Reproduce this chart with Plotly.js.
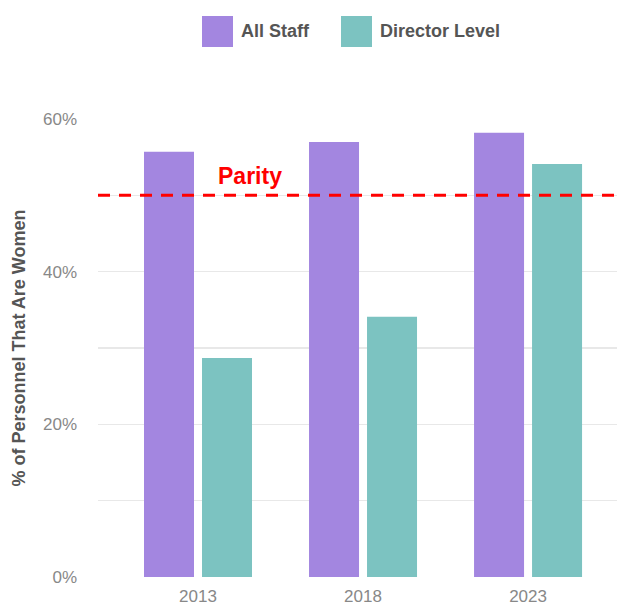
<!DOCTYPE html>
<html>
<head>
<meta charset="utf-8">
<script src="https://cdn.plot.ly/plotly-3.0.1.min.js"></script>
<style>html,body{margin:0;padding:0;background:#fff;}#chart{width:617px;height:605px;}</style>
</head>
<body>
<div id="chart"></div>
<script>
const years = ['2013', '2018', '2023'];
const allStaff = [55.7, 57.0, 58.2];
const directorLevel = [28.7, 34.1, 54.1];
const seriesNames = ['All Staff', 'Director Level'];
const seriesColors = ['#a386e0', '#7cc3c1'];
const parityValue = 50;
const parityLabel = 'Parity';
const yTickVals = [0, 10, 20, 30, 40, 50, 60];
const yTickText = ['0%', '', '20%', '', '40%', '', '60%'];
const yTitle = '% of Personnel That Are Women';

const FONT = 'Helvetica, Arial, "Liberation Sans", sans-serif';

const traces = [
  {type: 'bar', x: years, y: allStaff, name: seriesNames[0], marker: {color: seriesColors[0]}, hoverinfo: 'none'},
  {type: 'bar', x: years, y: directorLevel, name: seriesNames[1], marker: {color: seriesColors[1]}, hoverinfo: 'none'}
];

const layout = {
  width: 617, height: 605,
  margin: {l: 98, r: 0, t: 119, b: 28},
  paper_bgcolor: '#fff', plot_bgcolor: '#fff',
  font: {family: FONT, color: '#888', size: 17},
  showlegend: false,
  barmode: 'group',
  bargap: 0.297,
  bargroupgap: 0.138,
  xaxis: {
    type: 'category',
    range: [-0.606, 2.539],
    showgrid: false, zeroline: false, showline: false,
    ticks: '', tickfont: {size: 17, color: '#888'},
    ticklabelstandoff: 7,
    fixedrange: true
  },
  yaxis: {
    range: [0, 60],
    tickvals: yTickVals, ticktext: yTickText,
    showgrid: true, gridcolor: '#e8e8e8', gridwidth: 1.5,
    zeroline: false, showline: false, ticks: '',
    ticklabelstandoff: 20,
    tickfont: {size: 17, color: '#888'},
    title: {text: yTitle, font: {size: 18, color: '#555', family: FONT, weight: 'bold'}, standoff: 12},
    fixedrange: true
  },
  shapes: [
    {type: 'line', xref: 'paper', yref: 'y', x0: 0, x1: 1, y0: parityValue, y1: parityValue,
     line: {color: '#ff0000', width: 3, dash: '12px,9px'}, layer: 'above'},
    {type: 'rect', xref: 'paper', yref: 'paper', x0: (202-98)/519, x1: (233-98)/519, y0: (577-47)/458, y1: (577-16)/458,
     fillcolor: seriesColors[0], line: {width: 0}},
    {type: 'rect', xref: 'paper', yref: 'paper', x0: (341-98)/519, x1: (372-98)/519, y0: (577-47)/458, y1: (577-16)/458,
     fillcolor: seriesColors[1], line: {width: 0}}
  ],
  annotations: [
    {xref: 'paper', yref: 'y', x: (249.5-98)/519, y: parityValue, xanchor: 'center', yshift: 19, text: '<b>' + parityLabel + '</b>',
     showarrow: false, font: {size: 23, color: '#ff0000', family: FONT}},
    {xref: 'paper', yref: 'paper', x: (239-98)/519, y: (577-31)/458, xanchor: 'left', yanchor: 'middle',
     text: '<b>' + seriesNames[0] + '</b>', showarrow: false, font: {size: 18, color: '#555', family: FONT}},
    {xref: 'paper', yref: 'paper', x: (378-98)/519, y: (577-31)/458, xanchor: 'left', yanchor: 'middle',
     text: '<b>' + seriesNames[1] + '</b>', showarrow: false, font: {size: 18, color: '#555', family: FONT}}
  ]
};

Plotly.newPlot('chart', traces, layout, {displayModeBar: false, staticPlot: true});
</script>
</body>
</html>
